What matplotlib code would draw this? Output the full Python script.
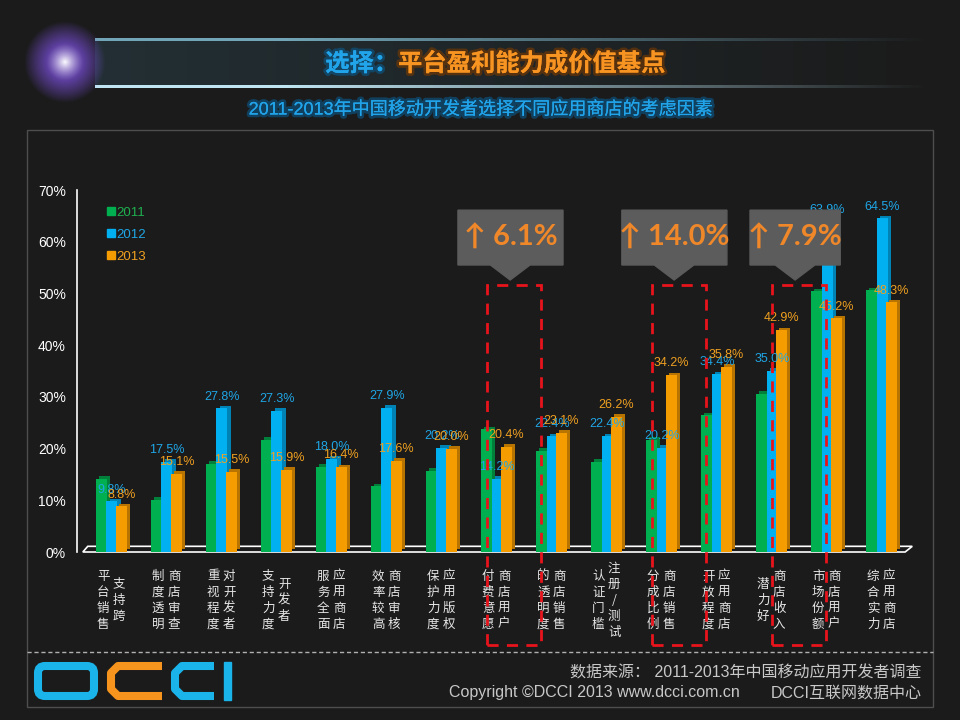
import numpy as np
import matplotlib.pyplot as plt
from matplotlib.patches import Rectangle, Polygon, FancyBboxPatch
from matplotlib.lines import Line2D
import matplotlib.patheffects as pe

plt.rcParams['font.family'] = ['Liberation Sans', 'Noto Sans CJK SC', 'DejaVu Sans']

# --------------------------------
# DATA
# --------------------------------
cat_first = ["支持跨", "商店审查", "对开发者", "开发者", "应用商店", "商店审核", "应用版权",
             "商店用户", "商店销售", "注册/测试", "商店销售", "应用商店", "商店收入", "商店用户", "应用商店"]
cat_second = ["平台销售", "制度透明", "重视程度", "支持力度", "服务全面", "效率较高", "保护力度",
              "付费意愿", "的透明度", "认证门槛", "分成比例", "开放程度", "潜力好", "市场份额", "综合实力"]

v2011 = [14.2, 10.1, 17.1, 21.7, 16.5, 12.7, 15.7, 23.7, 19.6, 17.5, 21.7, 26.4, 30.6, 50.4, 50.6]
v2012 = [9.8, 17.5, 27.8, 27.3, 18.0, 27.9, 20.2, 14.2, 22.4, 22.4, 20.2, 34.4, 35.0, 63.9, 64.5]
v2013 = [8.8, 15.1, 15.5, 15.9, 16.4, 17.6, 20.0, 20.4, 23.1, 26.2, 34.2, 35.8, 42.9, 45.2, 48.3]
years = ["2011", "2012", "2013"]

highlight_idx = [7, 10, 12]
highlight_txt = ["6.1%", "14.0%", "7.9%"]

# --------------------------------
# STYLE
# --------------------------------
BG = "#1b1b1b"
GREEN, BLUE, ORANGE = "#00b050", "#00b0f0", "#f59d00"
SIDE = {GREEN: "#00803a", BLUE: "#0082b4", ORANGE: "#b87400"}
LBL_BLUE, LBL_ORANGE = "#1fa6e6", "#f0a020"
CJK = ['Noto Sans CJK SC', 'DejaVu Sans']

fig = plt.figure(figsize=(9.6, 7.2), dpi=100, facecolor=BG)

# decoration layer in pixel coordinates
deco = fig.add_axes([0, 0, 1, 1], zorder=0)
deco.set_xlim(0, 960)
deco.set_ylim(720, 0)
deco.axis("off")
deco.set_facecolor(BG)

# star glow
yy, xx = np.mgrid[-1:1:160j, -1:1:160j]
r = np.sqrt(xx**2 + yy**2)
core = np.clip(1 - r * 2.2, 0, 1)
star = np.zeros((160, 160, 4))
star[..., 0] = 0.55 + 0.45 * core
star[..., 1] = 0.35 + 0.65 * core
star[..., 2] = 1.0
star[..., 3] = np.clip(1 - r, 0, 1) ** 0.9
deco.imshow(star, extent=(24, 106, 103, 21), aspect="auto", zorder=2)

# header band
grad = np.linspace(1, 0, 300)
band = np.zeros((1, 300, 4))
band[..., 0] = 0.15
band[..., 1] = 0.22
band[..., 2] = 0.25
band[..., 3] = 0.7 * grad
deco.imshow(band, extent=(95, 930, 88, 40), aspect="auto", zorder=1)
for y, col, w in [(40, (0.45, 0.65, 0.72), 2.5), (87, (0.75, 0.9, 0.95), 2.5)]:
    line = np.zeros((1, 300, 4))
    line[..., 0], line[..., 1], line[..., 2] = col
    line[..., 3] = np.clip(grad * 1.3, 0, 1)
    deco.imshow(line, extent=(95, 930, y + w / 2, y - w / 2), aspect="auto", zorder=1)

glow_b = [pe.withStroke(linewidth=4, foreground="#0a5a8a", alpha=0.6), pe.Normal()]
glow_o = [pe.withStroke(linewidth=4, foreground="#7a3a00", alpha=0.6), pe.Normal()]
deco.text(398, 64, "选择：", ha="right", va="center", fontsize=17.5, color="#22a4ea",
          family=CJK, fontweight="bold", path_effects=glow_b, zorder=3)
deco.text(398, 64, "平台盈利能力成价值基点", ha="left", va="center", fontsize=17.5,
          color="#f79422", family=CJK, fontweight="bold", path_effects=glow_o, zorder=3)
deco.text(480, 110, "2011-2013年中国移动开发者选择不同应用商店的考虑因素", ha="center", va="center",
          fontsize=13, color="#22a4ea", path_effects=glow_b, zorder=3)

# panel frame + footer
deco.add_patch(Rectangle((27, 130), 906, 577, fill=False, ec="#4e4e4e", lw=1))
deco.plot([27, 933], [652, 652], color="#b0b0b0", lw=1, ls=(0, (3, 2)))

lw_logo = 5.8
deco.add_patch(FancyBboxPatch((38, 666), 56, 30, boxstyle="round,pad=0,rounding_size=7",
                              fill=False, ec="#1ab4ea", lw=lw_logo))
deco.plot([162, 118, 111, 111, 118, 162], [666, 666, 673, 689, 696, 696],
          color="#f7941d", lw=lw_logo, solid_joinstyle="round", solid_capstyle="butt")
deco.plot([214, 182, 175, 175, 182, 214], [666, 666, 673, 689, 696, 696],
          color="#1ab4ea", lw=lw_logo, solid_joinstyle="round", solid_capstyle="butt")
deco.add_patch(Rectangle((224, 662), 7, 38, color="#1ab4ea"))

deco.text(922, 673, "数据来源： 2011-2013年中国移动应用开发者调查", ha="right", va="center",
          fontsize=11.5, color="#c8c8c8")
deco.text(740, 693, "Copyright ©DCCI 2013 www.dcci.com.cn", ha="right", va="center",
          fontsize=11.5, color="#c8c8c8")
deco.text(922, 693, "DCCI互联网数据中心", ha="right", va="center", fontsize=11.5, color="#c8c8c8")

# --------------------------------
# MAIN CHART
# --------------------------------
ax = fig.add_axes([77 / 960, 1 - 552 / 720, 835 / 960, 362 / 720], zorder=1)
ax.patch.set_alpha(0)
ax.set_xlim(-0.636, 14.545)
ax.set_ylim(0, 70)
for s in ["top", "right", "bottom"]:
    ax.spines[s].set_visible(False)
ax.spines["left"].set_color("white")
ax.spines["left"].set_linewidth(1.2)
ax.set_xticks([])
ax.set_yticks(range(0, 71, 10))
ax.set_yticklabels([f"{t}%" for t in range(0, 71, 10)])
ax.tick_params(axis="y", length=0, pad=8, labelcolor="white", labelsize=10)

x = np.arange(len(v2011))
bw = 0.2
series = [(v2011, GREEN, -0.19, None), (v2012, BLUE, 0.0, LBL_BLUE), (v2013, ORANGE, 0.17, LBL_ORANGE)]
z = 2
for vals, col, off, lcol in series:
    ax.bar(x + off + 0.06, vals, bw, bottom=0.5, color=SIDE[col], zorder=z)
    ax.bar(x + off, vals, bw, color=col, zorder=z + 1)
    if lcol:
        for xi, v in zip(x + off, vals):
            ax.text(xi, v + 1.1, f"{v:.1f}%", ha="center", va="bottom", fontsize=9,
                    color=lcol, zorder=10)
    z += 2

# floor
ax.add_patch(Polygon([(-0.53, 0), (14.42, 0), (14.55, 1.1), (-0.44, 1.1)], closed=True,
                     fill=False, ec="white", lw=1.2, clip_on=False, zorder=1))

# legend
handles = [Line2D([], [], marker="s", ls="", color=c, markersize=6) for c in [GREEN, BLUE, ORANGE]]
ax.legend(handles, years, loc="upper left", bbox_to_anchor=(0.037, 0.955), frameon=False,
          labelcolor=["#1fb050", "#1fa6e6", "#f0a020"], fontsize=9.5, handlelength=0.5,
          handletextpad=0.15, labelspacing=0.75, borderpad=0, borderaxespad=0)

# category labels (two vertical columns, read right to left)
for i, (a, b) in enumerate(zip(cat_first, cat_second)):
    ax.text(i + 0.13, -9.3, "\n".join(a), ha="center", va="center", fontsize=9,
            color="#e6e6e6", family=CJK, linespacing=1.3, clip_on=False)
    ax.text(i - 0.16, -9.3, "\n".join(b), ha="center", va="center", fontsize=9,
            color="#e6e6e6", family=CJK, linespacing=1.3, clip_on=False)

# highlight boxes and callouts
rect_span = [(-0.18, 0.8), (-0.18, 0.8), (0.0, 0.98)]
box_span = [(-0.71, 1.2), (-0.73, 1.18), (-0.4, 1.24)]
tip_off = [0.24, 0.22, 0.42]
for gi, txt, (r0, r1), (b0, b1), t in zip(highlight_idx, highlight_txt, rect_span, box_span, tip_off):
    ax.add_patch(Rectangle((gi + r0, -18.0), r1 - r0, 69.6, fill=False, ec="#e8141c", lw=2,
                           ls=(0, (4, 3)), clip_on=False, zorder=12))
    tx = gi + t
    ax.add_patch(Polygon([(gi + b0, 66.1), (gi + b1, 66.1), (gi + b1, 55.5), (tx + 0.36, 55.5),
                          (tx, 52.6), (tx - 0.36, 55.5), (gi + b0, 55.5)], closed=True,
                         color="#5c5c5c", clip_on=False, zorder=13))
    ax.text(gi + (b0 + b1) / 2, 60.8, "↑ " + txt, ha="center", va="center", fontsize=21,
            fontweight="bold", color="#f0882a", family=["Lato", "DejaVu Sans"], zorder=14)

plt.savefig("out.png", dpi=100, facecolor=BG)
plt.close()
